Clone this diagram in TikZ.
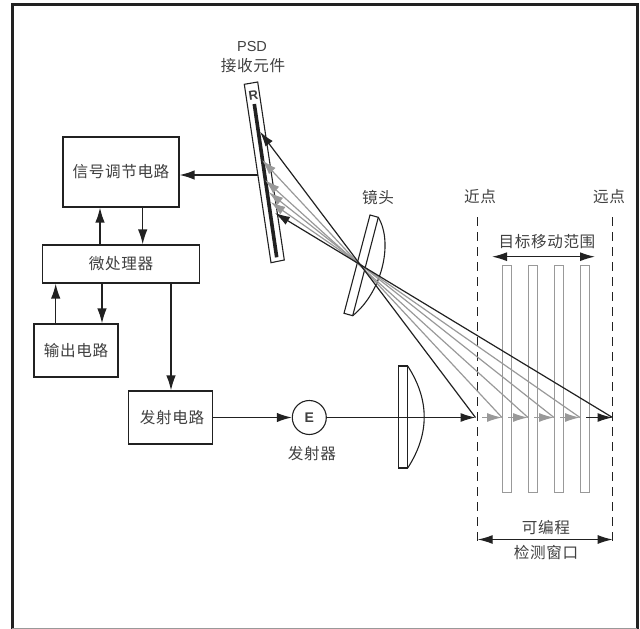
\documentclass[tikz,border=0pt]{standalone}
\usepackage{fontspec}
\setmainfont{Liberation Sans}
\newfontfamily\cjk[LetterSpace=4]{Noto Sans CJK SC}
\usetikzlibrary{arrows.meta}
\definecolor{ink}{gray}{0.13}
\definecolor{ray}{gray}{0.6}
\definecolor{txt}{gray}{0.25}
\tikzset{
  x=1pt,y=-1pt,
  cjklabel/.style={text=txt,font=\cjk\fontsize{15.6}{17}\selectfont,inner sep=0pt},
  box/.style={draw=ink,line width=1.2pt,fill=white,minimum width=#1,inner sep=0pt},
  link/.style={draw=ink,line width=1.3pt,-{Latex[length=15pt,width=9.5pt]}},
  bilink/.style={draw=ink,line width=1.3pt,{Latex[length=15pt,width=9pt]}-{Latex[length=15pt,width=9pt]}},
  blackray/.style={draw=ink,line width=1.2pt,-{Latex[length=15pt,width=9pt]}},
  grayray/.style={draw=ray,line width=1.2pt,-{Latex[length=15pt,width=9pt]}},
  bar/.style={draw=ray,line width=1.2pt},
  limit/.style={draw=ink,line width=1.2pt,dash pattern=on 9pt off 6pt},
  lens/.style={draw=ink,line width=1.1pt},
}
\begin{document}
\begin{tikzpicture}
\useasboundingbox (0,0) rectangle (640,629);
% frame
\path[draw=ink,line width=3pt] (12.5,629) -- (12.5,4.5) -- (637,4.5) -- (637,629);
\path[draw=ray,line width=1pt] (12,628) -- (637,628);
% target bars
\foreach \bx in {502.5,528.5,554.5,580.5}
  \path[bar] (\bx,265.5) rectangle (\bx+9,492.5);
% limits
\coordinate (nearT) at (477.7,217); \coordinate (nearB) at (477.7,541);
\coordinate (farT) at (612.7,217); \coordinate (farB) at (612.7,541);
\path[limit] (nearT) -- (nearB);
\path[limit] (farT) -- (farB);
% boxes
\node[box=116pt,minimum height=70pt,cjklabel] (sig) at (121,172) {\raisebox{-2pt}{信号调节电路}};
\node[box=157pt,minimum height=38pt,cjklabel] (mcu) at (121,264) {微处理器};
\node[box=84pt,minimum height=53pt,cjklabel] (out) at (76,350.5) {输出电路};
\node[box=83.5pt,minimum height=53pt,cjklabel] (tx) at (170.5,417.5) {\hspace{3pt}发射电路};
\node[draw=ink,line width=1.1pt,circle,minimum size=34pt,inner sep=0pt,text=txt,font=\bfseries\fontsize{14}{16}\selectfont] (E) at (309.3,417.5) {E};
% box connectors
\draw[link] (mcu.north west -| 100,0) -- (sig.south west -| 100,0);
\draw[link] (sig.south west -| 142.7,0) -- (mcu.north west -| 142.7,0);
\draw[link] (mcu.south west -| 102,0) -- (out.north west -| 102,0);
\draw[link] (out.north west -| 55.7,0) -- (mcu.south west -| 55.7,0);
\draw[link] (mcu.south west -| 171,0) -- (tx.north west -| 171,0);
\draw[link] (tx.east) -- (E.west);
% PSD
\path[lens,fill=white] (244.3,84.3) -- (257.7,82) -- (284.3,260) -- (271,262.7) -- cycle;
\coordinate (barT) at (254.3,104); \coordinate (barB) at (276.7,257.3);
\draw[ink,line width=3.6pt] (barT) -- (barB);
\node[rotate=8.5,inner sep=0pt,text=txt,font=\bfseries\fontsize{13}{15}\selectfont] (R) at (253.3,95) {R};
\coordinate (psdport) at (258,175);
\draw[link] (psdport) -- (psdport -| sig.east);
% lens 1
\coordinate (lensA) at (407.7,366); \coordinate (lensB) at (407.7,468);
\path[lens] (398.3,366) rectangle (407.7,468);
\draw[lens] (lensA) .. controls (429.7,400) and (429.7,434) .. (lensB);
% lens 2
\coordinate (lensC) at (378.3,217.3); \coordinate (lensD) at (352.7,315.7);
\path[lens] (370,215) -- (lensC) -- (lensD) -- (344,313.3) -- cycle;
\draw[lens] (lensC) .. controls (394,244) and (381,293) .. (lensD);
% points
\coordinate (p0) at (475.5,417.5);
\coordinate (p1) at (502,417.5);
\coordinate (p2) at (528,417.5);
\coordinate (p3) at (554,417.5);
\coordinate (p4) at (580,417.5);
\coordinate (p5) at (612.5,417.5);
% image points
\coordinate (i0) at (260,131.7);
\coordinate (i1) at (262,160);
\coordinate (i2) at (265,180);
\coordinate (i3) at (268.5,192);
\coordinate (i4) at (270.5,202);
\coordinate (i5) at (275,213);
% gray rays to sensor
\draw[grayray] (p1) -- (i1);
\draw[grayray] (p2) -- (i2);
\draw[grayray] (p3) -- (i3);
\draw[grayray] (p4) -- (i4);
% black rays
\draw[blackray] (p0) -- (i0);
\draw[blackray] (p5) -- (i5);
% axis
\draw[blackray] (E) -- (p0);
\coordinate (s1) at (482,417.5); \coordinate (s2) at (508,417.5);
\coordinate (s3) at (534,417.5); \coordinate (s4) at (560,417.5);
\coordinate (s5) at (586,417.5);
\draw[grayray] (s1) -- (p1);
\draw[grayray] (s2) -- (p2);
\draw[grayray] (s3) -- (p3);
\draw[grayray] (s4) -- (p4);
\draw[blackray] (s5) -- (p5);
% dimension arrows
\coordinate (mvL) at (492,256.7); \coordinate (mvR) at (595,256.7);
\draw[bilink] (mvL) -- (mvR);
\coordinate (winL) at (477.7,539.5); \coordinate (winR) at (612.7,539.5);
\draw[bilink] (winL) -- (winR);
% labels
\node[text=txt,inner sep=0pt,font=\fontsize{14.5}{16}\selectfont] (psd) at (252,47) {PSD};
\node[cjklabel] (psdt) at (253,66) {接收元件};
\node[cjklabel] (lenst) at (378,198) {镜头};
\node[cjklabel] (neart) at (480,197) {近点};
\node[cjklabel] (fart) at (609,197) {远点};
\node[cjklabel] (range) at (547,242) {目标移动范围};
\node[cjklabel] (prog) at (546,528) {可编程};
\node[cjklabel] (win) at (546,553) {检测窗口};
\node[cjklabel] (emit) at (312,454) {发射器};
\end{tikzpicture}
\end{document}
